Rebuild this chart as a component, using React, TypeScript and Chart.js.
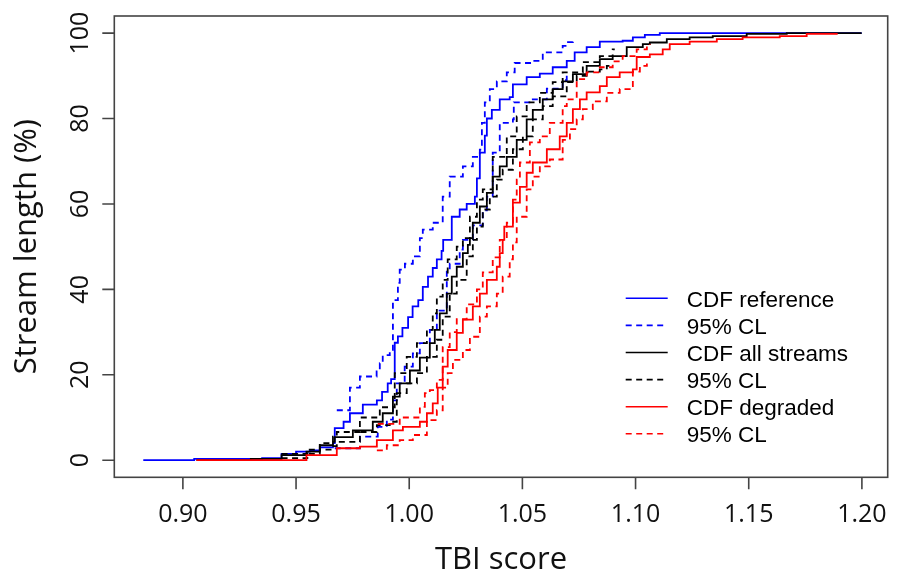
import React, { useEffect, useRef } from "react";
import { Chart, registerables } from "chart.js";

Chart.register(...registerables);

// ---- data (TBI score, cumulative % of stream length) ----
const refCdf: number[][] = [
  [0.8825, 0], [0.905, 0.3], [0.935, 0.5], [0.9436, 1.5], [0.95, 2.0], [0.9561, 2.3], [0.9605, 3.0],
  [0.9663, 4.0], [0.9671, 7.5], [0.971, 9], [0.9738, 11], [0.9795, 13], [0.9857, 14], [0.988, 16],
  [0.9905, 18], [0.992, 19], [0.9936, 27.5], [0.995, 29], [0.997, 31], [0.9995, 33.5], [1.0015, 36],
  [1.004, 37.5], [1.006, 40.6], [1.0083, 43], [1.0104, 45], [1.0122, 47], [1.0143, 49], [1.015, 51.6],
  [1.0188, 57], [1.0223, 58.7], [1.0254, 60], [1.029, 61.7], [1.0299, 66], [1.0312, 72], [1.0334, 76],
  [1.0343, 80], [1.0365, 82], [1.04, 84.5], [1.0444, 85], [1.0458, 88], [1.0519, 89.7], [1.0577, 90.5],
  [1.0634, 92], [1.0696, 93.5], [1.0731, 95.5], [1.0784, 96.7], [1.0842, 98], [1.0943, 98.2],
  [1.0988, 99], [1.1041, 99.6], [1.1107, 100], [1.1999, 100],
];
const refHi: number[][] = [
  [0.968, 11.7], [0.9738, 17], [0.9782, 19.6], [0.9856, 20.8], [0.987, 22.7], [0.9883, 24.6],
  [0.9914, 25.5], [0.9928, 37.5], [0.995, 41.5], [0.9958, 44.6], [0.9981, 46], [1.0016, 47.7],
  [1.0047, 52], [1.006, 54], [1.0104, 55.6], [1.0148, 61.7], [1.0179, 66.4], [1.0237, 68.8],
  [1.0281, 71], [1.0312, 72.7], [1.0321, 79], [1.0334, 83.8], [1.0356, 86.9], [1.0387, 88.7],
  [1.0431, 90.8], [1.0466, 93], [1.0546, 93.5], [1.059, 95.5], [1.0678, 97], [1.0696, 97.9], [1.0723, 98],
];
const refLo: number[][] = [
  [0.9671, 2.8], [0.9782, 5.5], [0.9861, 7.8], [0.9901, 9.5], [0.9928, 14], [0.9945, 18],
  [0.998, 21.9], [1.0016, 25], [1.0047, 27.4], [1.0091, 30.5], [1.0122, 35], [1.0166, 44.6],
  [1.0179, 46], [1.0223, 49.3], [1.0237, 51.6], [1.0281, 55], [1.0325, 58.5], [1.0343, 61.7],
  [1.0369, 72], [1.04, 79], [1.0458, 79.8], [1.0462, 83.8], [1.0546, 84.5], [1.0608, 87],
  [1.0678, 89], [1.0696, 90.8],
];
const allCdf: number[][] = [
  [0.906, 0], [0.93, 0.3], [0.9436, 1.2], [0.9546, 2.0], [0.9605, 3.5], [0.9663, 4.3], [0.9671, 5.4],
  [0.9751, 7], [0.9839, 9], [0.9883, 11], [0.9928, 14.9], [0.9958, 18], [1.0003, 21], [1.0047, 24],
  [1.0091, 27.4], [1.0113, 30.5], [1.0135, 34.4], [1.0166, 39], [1.0188, 43], [1.021, 45.3],
  [1.0237, 48.5], [1.0259, 50.4], [1.0268, 52], [1.0281, 55.6], [1.0312, 59.4], [1.0343, 62.6],
  [1.0369, 66.4], [1.04, 68.8], [1.0431, 71], [1.0475, 75], [1.0519, 79.8], [1.0546, 82],
  [1.059, 84.5], [1.0634, 86.9], [1.0678, 88.7], [1.0723, 90.4], [1.0784, 92.3], [1.0842, 93.9],
  [1.0899, 94.6], [1.0961, 96.7], [1.1032, 97.4], [1.1063, 97.8], [1.1138, 98.6], [1.1239, 99],
  [1.1341, 99.3], [1.1491, 99.8], [1.1668, 100], [1.1999, 100],
];
const allHi: number[][] = [
  [0.9436, 1.5], [0.955, 2.5], [0.9605, 4], [0.9663, 5.5], [0.968, 6.6], [0.9782, 10], [0.987, 12.4],
  [0.9936, 20.4], [0.9989, 24.2], [1.0034, 27.4], [1.0078, 30.5], [1.0104, 34.4], [1.0122, 38.3],
  [1.0148, 42.2], [1.017, 47], [1.021, 50], [1.0237, 52], [1.0268, 57], [1.0299, 61], [1.0325, 63.4],
  [1.0369, 71], [1.0431, 75.8], [1.0475, 80.5], [1.0519, 83.8], [1.0577, 86], [1.0634, 88.5],
  [1.0678, 90.8], [1.0767, 93.2], [1.0842, 94.6], [1.0899, 96.2], [1.0908, 96.2],
];
const allLo: number[][] = [
  [0.9436, 0.5], [0.955, 1.5], [0.9605, 2.5], [0.9663, 3.3], [0.968, 4.3], [0.9782, 6.6],
  [0.9857, 8.2], [0.9914, 9], [0.9945, 15.7], [0.9989, 18], [1.0034, 20.4], [1.0078, 24.2],
  [1.0122, 28.2], [1.0148, 33.6], [1.0179, 39], [1.021, 42.2], [1.0254, 47.7], [1.0281, 51.6],
  [1.0299, 54.7], [1.0325, 58.7], [1.0356, 61.7], [1.0387, 65.7], [1.0413, 68], [1.0458, 72.8],
  [1.0502, 75.8], [1.0546, 79.8], [1.059, 82.9], [1.0634, 85.2], [1.0696, 88.5], [1.074, 90],
  [1.0784, 91], [1.0842, 91.5], [1.0873, 92.3], [1.0886, 92.3],
];
const degCdf: number[][] = [
  [0.906, 0], [0.9546, 1.2], [0.968, 2.8], [0.9782, 3.2], [0.9857, 4.7], [0.9928, 7], [0.9972, 7.8],
  [1.0047, 9], [1.0078, 11], [1.0104, 13.3], [1.0126, 17], [1.0148, 21.9], [1.017, 25.8],
  [1.021, 29.8], [1.0237, 32.9], [1.0281, 36], [1.0312, 39], [1.0343, 42.2], [1.0387, 45.3],
  [1.04, 48.5], [1.0413, 51.6], [1.042, 54.7], [1.0458, 60.3], [1.0489, 64], [1.0519, 67.3],
  [1.0546, 69.7], [1.0608, 72.8], [1.0665, 75.8], [1.0696, 79], [1.0723, 82.2], [1.0754, 84.5],
  [1.0784, 86.1], [1.0842, 87.6], [1.0873, 89.7], [1.093, 90.8], [1.0988, 91.5], [1.1005, 94.4],
  [1.1063, 95], [1.112, 96.2], [1.1151, 97.4], [1.1239, 98], [1.1359, 98.6], [1.1473, 99],
  [1.1637, 99.3], [1.1756, 99.8], [1.1889, 100],
];
const degHi: number[][] = [
  [0.9861, 8.5], [0.9958, 10], [1.0047, 12.5], [1.0069, 15.7], [1.0091, 16.4], [1.0122, 18.8],
  [1.0148, 26.5], [1.0179, 30], [1.021, 33], [1.0254, 36.5], [1.0299, 40], [1.0325, 44],
  [1.0369, 47.5], [1.04, 51.6], [1.0431, 55.6], [1.0458, 61], [1.0475, 65.7], [1.0489, 69.7],
  [1.0533, 74.4], [1.0577, 75.8], [1.0621, 79], [1.0678, 82.9], [1.0696, 84.5], [1.074, 89.2],
  [1.0784, 90.8], [1.0842, 92], [1.0899, 93.4], [1.0943, 94.6], [1.1005, 96.2], [1.105, 97],
  [1.1063, 97.4],
];
const degLo: number[][] = [
  [0.9857, 2.3], [0.9901, 3.5], [0.9958, 4.7], [1.0016, 5.9], [1.0078, 9.4], [1.0122, 11.7],
  [1.0148, 17], [1.017, 20.4], [1.0193, 23.5], [1.0237, 25.8], [1.0268, 28.9], [1.0312, 33.6],
  [1.0343, 36], [1.0387, 39], [1.0413, 43], [1.0444, 47], [1.0458, 51], [1.0475, 57], [1.0519, 63.4],
  [1.0546, 66.4], [1.0577, 68.8], [1.0621, 70.4], [1.0678, 75], [1.071, 77.5], [1.074, 79.8],
  [1.0767, 82.2], [1.0811, 84], [1.0873, 86], [1.093, 86.9], [1.0974, 87.6], [1.0988, 91],
  [1.1019, 92.3], [1.105, 93.4],
];

const xTicks = [0.9, 0.95, 1.0, 1.05, 1.1, 1.15, 1.2];
const xTickLabels = ["0.90", "0.95", "1.00", "1.05", "1.10", "1.15", "1.20"];
const yTicks = [0, 20, 40, 60, 80, 100];
const yTickLabels = ["0", "20", "40", "60", "80", "100"];
const xTitle = "TBI score";
const yTitle = "Stream length (%)";
const legendLabels = ["CDF reference", "95% CL", "CDF all streams", "95% CL", "CDF degraded", "95% CL"];

const BLUE = "#0000ff";
const BLACK = "#000000";
const RED = "#ff0000";
const DASH = [6, 4.5];

const toPts = (arr: number[][]) => arr.map(([x, y]) => ({ x, y }));

const seriesDefs = [
  { data: refCdf, color: BLUE, dashed: false, order: 2 },
  { data: refHi, color: BLUE, dashed: true, order: 2 },
  { data: refLo, color: BLUE, dashed: true, order: 2 },
  { data: allCdf, color: BLACK, dashed: false, order: 1 },
  { data: allHi, color: BLACK, dashed: true, order: 1 },
  { data: allLo, color: BLACK, dashed: true, order: 1 },
  { data: degCdf, color: RED, dashed: false, order: 0 },
  { data: degHi, color: RED, dashed: true, order: 0 },
  { data: degLo, color: RED, dashed: true, order: 0 },
];
const legendStyles = [
  { color: BLUE, dashed: false }, { color: BLUE, dashed: true },
  { color: BLACK, dashed: false }, { color: BLACK, dashed: true },
  { color: RED, dashed: false }, { color: RED, dashed: true },
];

const framePlugin = {
  id: "rframe",
  afterDraw(chart: any) {
    const { ctx, chartArea: a, scales } = chart;
    const xs = scales.x, ys = scales.y;
    ctx.save();
    ctx.strokeStyle = "#444";
    ctx.lineWidth = 1.6;
    ctx.setLineDash([]);
    ctx.strokeRect(a.left, a.top, a.right - a.left, a.bottom - a.top);
    ctx.beginPath();
    xTicks.forEach((v) => {
      const px = xs.getPixelForValue(v);
      ctx.moveTo(px, a.bottom);
      ctx.lineTo(px, a.bottom + 12);
    });
    yTicks.forEach((v) => {
      const py = ys.getPixelForValue(v);
      ctx.moveTo(a.left, py);
      ctx.lineTo(a.left - 12, py);
    });
    ctx.stroke();

    ctx.fillStyle = "#111";
    ctx.textBaseline = "alphabetic";
    ctx.textAlign = "center";
    ctx.font = '25px "Open Sans"';
    xTicks.forEach((v, i) => {
      ctx.fillText(xTickLabels[i], xs.getPixelForValue(v), a.bottom + 44.5);
    });
    yTicks.forEach((v, i) => {
      ctx.save();
      ctx.translate(a.left - 26, ys.getPixelForValue(v));
      ctx.rotate(-Math.PI / 2);
      ctx.fillText(yTickLabels[i], 0, 0);
      ctx.restore();
    });
    ctx.font = '31px "Open Sans"';
    ctx.fillText(xTitle, (a.left + a.right) / 2, a.bottom + 91.5);
    ctx.save();
    ctx.translate(a.left - 78, (a.top + a.bottom) / 2);
    ctx.rotate(-Math.PI / 2);
    ctx.fillText(yTitle, 0, 0);
    ctx.restore();

    // legend
    const lx = a.right - 262;
    const ly = a.top + 282.3;
    ctx.font = '22.5px "Liberation Sans", Arial, sans-serif';
    ctx.textAlign = "left";
    legendLabels.forEach((lab, i) => {
      const y = ly + i * 27.1;
      const st = legendStyles[i];
      ctx.strokeStyle = st.color;
      ctx.lineWidth = 1.6;
      ctx.setLineDash(st.dashed ? DASH : []);
      ctx.beginPath();
      ctx.moveTo(lx, y);
      ctx.lineTo(lx + 42, y);
      ctx.stroke();
      ctx.setLineDash([]);
      ctx.fillStyle = "#000";
      ctx.fillText(lab, lx + 61, y + 8.5);
    });
    ctx.restore();
  },
};

export default function App() {
  const ref = useRef<HTMLCanvasElement | null>(null);
  useEffect(() => {
    if (!ref.current) return;
    const chart = new Chart(ref.current, {
      type: "line",
      data: {
        datasets: seriesDefs.map((s) => ({
          data: toPts(s.data),
          borderColor: s.color,
          backgroundColor: s.color,
          borderWidth: 1.8,
          borderDash: s.dashed ? DASH : [],
          stepped: "before",
          pointRadius: 0,
          fill: false,
          order: s.order,
          tension: 0,
        })),
      },
      options: {
        animation: false,
        responsive: false,
        devicePixelRatio: 1,
        layout: { padding: { left: 114.3, right: 9.3, top: 16, bottom: 93.7 } },
        plugins: { legend: { display: false }, tooltip: { enabled: false } },
        scales: {
          x: { type: "linear", min: 0.8697, max: 1.2114, display: false },
          y: { type: "linear", min: -4, max: 104, display: false },
        },
      },
      plugins: [framePlugin],
    } as any);
    return () => chart.destroy();
  }, []);
  return (
    <div style={{ position: "fixed", left: 0, top: 0, width: 897, height: 571, background: "#fff" }}>
      <canvas ref={ref} width={897} height={571} style={{ display: "block", width: 897, height: 571 }} />
    </div>
  );
}
